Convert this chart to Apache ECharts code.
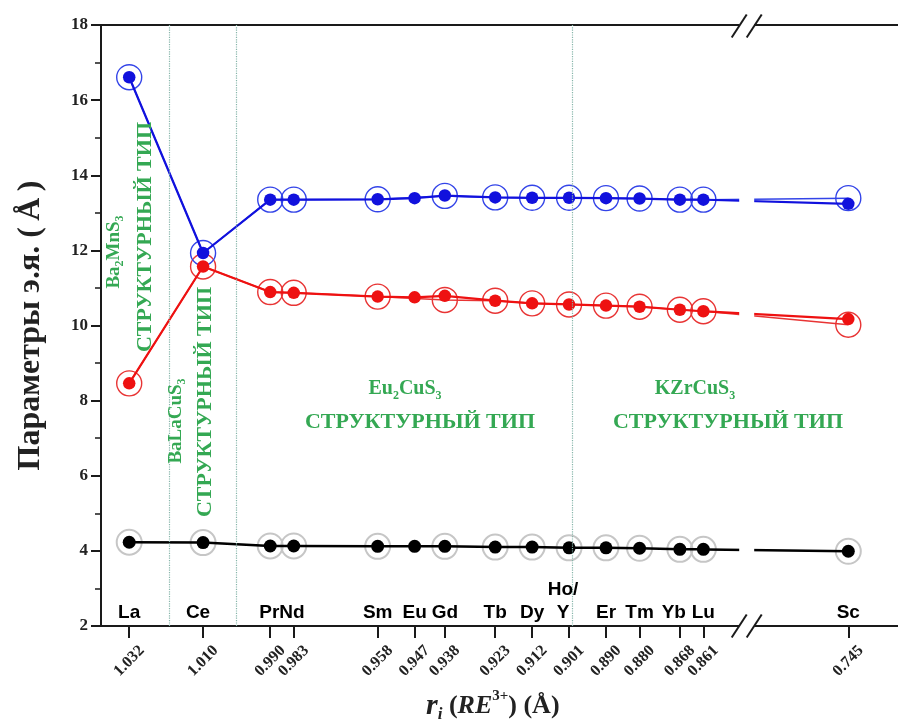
<!DOCTYPE html>
<html>
<head>
<meta charset="utf-8">
<script src="https://cdn.jsdelivr.net/npm/echarts@6/dist/echarts.min.js"></script>
<style>
  html, body { margin: 0; padding: 0; background: #fff; }
  #chart { width: 898px; height: 722px; }
</style>
</head>
<body>
<div id="chart"></div>
<script>
// Rare-earth ions and their radii r(RE3+), Å
const elements = ['La', 'Ce', 'Pr', 'Nd', 'Sm', 'Eu', 'Gd', 'Tb', 'Dy', 'Y', 'Er', 'Tm', 'Yb', 'Lu', 'Sc'];
const radii = [1.032, 1.010, 0.990, 0.983, 0.958, 0.947, 0.938, 0.923, 0.912, 0.901, 0.890, 0.880, 0.868, 0.861, 0.745];

// Unit-cell parameters, Å (filled markers and open rings)
const blueDots  = [16.61, 11.93, 13.35, 13.35, 13.36, 13.39, 13.46, 13.41, 13.40, 13.40, 13.39, 13.38, 13.35, 13.35, 13.24];
const blueRings = [16.61, 11.93, 13.35, 13.35, 13.36, null,  13.45, 13.41, 13.40, 13.40, 13.39, 13.38, 13.35, 13.35, 13.39];
const redDots   = [8.46, 11.57, 10.89, 10.87, 10.77, 10.75, 10.79, 10.66, 10.59, 10.56, 10.53, 10.50, 10.42, 10.38, 10.17];
const redRings  = [8.46, 11.57, 10.89, 10.87, 10.77, null,  10.68, 10.66, 10.59, 10.56, 10.53, 10.50, 10.42, 10.38, 10.02];
const blackDots = [4.23, 4.22, 4.13, 4.13, 4.12, 4.12, 4.12, 4.10, 4.10, 4.08, 4.08, 4.07, 4.04, 4.04, 3.99];
const blackRings= [4.23, 4.22, 4.13, 4.13, 4.12, null,  4.12, 4.10, 4.10, 4.08, 4.08, 4.07, 4.04, 4.04, 3.99];

// Element names written above the radius axis
const nameLabels = ['La', 'Ce', 'PrNd', 'Sm', 'Eu', 'Gd', 'Tb', 'Dy', 'Ho/\nY', 'Er', 'Tm', 'Yb', 'Lu', 'Sc'];
const nameAt     = [1.032, 1.0115, 0.9865, 0.958, 0.947, 0.938, 0.923, 0.912, 0.9028, 0.890, 0.880, 0.8698, 0.861, 0.745];

// Structure-type boundaries
const phaseBounds = [1.0215, 0.9985, 0.8965];

// Parameter axis
const yMin = 2, yMax = 18, yStep = 2;

// Layout: main panel plus the Sc panel beyond the axis break
const GRID_TOP = 25, GRID_BOTTOM = 96;
const MAIN_LEFT = 101, MAIN_WIDTH = 644;
const TAIL_LEFT = 708;
const MAIN_RANGE = [0.8486, 1.0404];
const TAIL_RANGE = [0.70524, 0.85724];
const BREAK_A = 739.2, BREAK_B = 754.2;

const SERIF = 'Liberation Serif';
const SANS = 'Liberation Sans';
const AXIS_COLOR = '#1a1a1a';
const GREEN = '#34a853';

function points(vals, from, to) {
  const out = [];
  for (let i = from; i < to; i++) {
    if (vals[i] !== null) out.push([radii[i], vals[i]]);
  }
  return out;
}

function dotSeries(vals, color, size, width, grid, from, to) {
  return {
    type: 'line', xAxisIndex: grid === 0 ? 0 : 2, yAxisIndex: grid,
    data: points(vals, from, to), clip: true, z: 4,
    symbol: 'circle', symbolSize: size,
    itemStyle: { color: color },
    lineStyle: { color: color, width: width },
    animation: false, silent: true
  };
}

function ringSeries(vals, color, size, border, lineW, grid, from, to) {
  return {
    type: 'line', xAxisIndex: grid === 0 ? 0 : 2, yAxisIndex: grid,
    data: points(vals, from, to), clip: true, z: 3,
    symbol: 'circle', symbolSize: size,
    itemStyle: { color: 'rgba(255,255,255,0)', borderColor: color, borderWidth: border },
    lineStyle: { color: color, width: lineW },
    animation: false, silent: true
  };
}

function nameSeries(grid, idx) {
  return {
    type: 'scatter', xAxisIndex: grid === 0 ? 0 : 2, yAxisIndex: grid,
    symbolSize: 0, clip: false, silent: true, animation: false, z: 5,
    itemStyle: { opacity: 1 },
    data: idx.map(i => ({ name: nameLabels[i], value: [nameAt[i], yMin] })),
    label: {
      show: true, position: 'top', distance: 2, formatter: '{b}', opacity: 1,
      fontFamily: SANS, fontWeight: 'bold', fontSize: 19, lineHeight: 23, color: '#000'
    }
  };
}

const N = radii.length;          // 15 points, Sc is the last
const mainEnd = N - 1;           // La … Lu in the main panel
const tailFrom = N - 2;          // Lu … Sc in the tail panel

const series = [
  // main panel
  ringSeries(blackRings, '#c6c6c6', 25, 2, 1.5, 0, 0, mainEnd),
  ringSeries(redRings, '#e83434', 25, 1.4, 1.5, 0, 0, mainEnd),
  ringSeries(blueRings, '#3344e8', 25, 1.4, 1.5, 0, 0, mainEnd),
  dotSeries(blackDots, '#000000', 13, 2.5, 0, 0, mainEnd),
  dotSeries(redDots, '#ee1111', 12.5, 2.2, 0, 0, mainEnd),
  dotSeries(blueDots, '#1111dd', 12.5, 2.2, 0, 0, mainEnd),
  // tail panel (Lu → Sc)
  ringSeries(blackRings, '#c6c6c6', 25, 2, 1.5, 1, tailFrom, N),
  ringSeries(redRings, '#e83434', 25, 1.4, 1.5, 1, tailFrom, N),
  ringSeries(blueRings, '#3344e8', 25, 1.4, 1.5, 1, tailFrom, N),
  dotSeries(blackDots, '#000000', 13, 2.5, 1, tailFrom, N),
  dotSeries(redDots, '#ee1111', 12.5, 2.2, 1, tailFrom, N),
  dotSeries(blueDots, '#1111dd', 12.5, 2.2, 1, tailFrom, N),
  // element names
  nameSeries(0, nameLabels.map((_, i) => i).slice(0, nameLabels.length - 1)),
  nameSeries(1, [nameLabels.length - 1])
];

// dotted structure-type boundaries
series[0].markLine = {
  silent: true, symbol: ['none', 'none'], animation: false,
  label: { show: false },
  lineStyle: { type: 'dotted', color: '#86b5aa', width: 1.2 },
  data: phaseBounds.map(v => ({ xAxis: v }))
};

const tickLabelStyle = {
  rotate: 45, align: 'center', verticalAlign: 'middle', margin: 35,
  fontFamily: SERIF, fontWeight: 'bold', fontSize: 16, color: '#222',
  formatter: v => Number(v).toFixed(3)
};

function bottomAxis(grid, range, ticks) {
  return {
    type: 'value', gridIndex: grid, position: 'bottom', inverse: true,
    min: range[0], max: range[1],
    axisLine: { show: true, onZero: false, lineStyle: { color: AXIS_COLOR, width: 2 } },
    axisTick: { show: true, customValues: ticks, length: 12, lineStyle: { color: AXIS_COLOR, width: 2 } },
    axisLabel: Object.assign({ customValues: ticks }, tickLabelStyle),
    splitLine: { show: false }
  };
}

function topAxis(grid, range) {
  return {
    type: 'value', gridIndex: grid, position: 'top', inverse: true,
    min: range[0], max: range[1],
    axisLine: { show: true, onZero: false, lineStyle: { color: AXIS_COLOR, width: 2 } },
    axisTick: { show: false }, axisLabel: { show: false }, splitLine: { show: false }
  };
}

function slash(cx, cy) {
  return {
    type: 'line', z: 101, silent: true,
    shape: { x1: cx - 7.5, y1: cy + 11.5, x2: cx + 7.5, y2: cy - 11.5 },
    style: { stroke: AXIS_COLOR, lineWidth: 2 }
  };
}

const subStyle = (size) => ({ fontFamily: SERIF, fontWeight: 'bold', fontSize: size, lineHeight: 12, verticalAlign: 'bottom', color: GREEN });
const mainStyle = (size) => ({ fontFamily: SERIF, fontWeight: 'bold', fontSize: size, lineHeight: size + 5, color: GREEN });

function greenText(text, x, y, size, vertical) {
  return {
    type: 'text', x: x, y: y, rotation: vertical ? Math.PI / 2 : 0, z: 120, silent: true,
    style: {
      text: text, align: 'center', verticalAlign: 'middle', fill: GREEN,
      rich: { m: mainStyle(size), s: subStyle(Math.round(size * 0.62)) }
    }
  };
}

const gridBottomY = 722 - GRID_BOTTOM;

const option = {
  backgroundColor: '#ffffff',
  animation: false,
  title: {
    text: '{r|r}{i|i}{n| (}{it|RE}{sup|3+}{n|) (Å)}',
    left: 426, top: 689, padding: 0,
    textStyle: {
      rich: {
        r:   { fontFamily: SERIF, fontStyle: 'italic', fontWeight: 'bold', fontSize: 30, lineHeight: 34, color: '#222' },
        i:   { fontFamily: SERIF, fontStyle: 'italic', fontWeight: 'bold', fontSize: 17, lineHeight: 14, verticalAlign: 'bottom', color: '#222' },
        n:   { fontFamily: SERIF, fontWeight: 'bold', fontSize: 26, lineHeight: 34, color: '#222' },
        it:  { fontFamily: SERIF, fontStyle: 'italic', fontWeight: 'bold', fontSize: 26, lineHeight: 34, color: '#222' },
        sup: { fontFamily: SERIF, fontWeight: 'bold', fontSize: 15, lineHeight: 14, verticalAlign: 'top', color: '#222' }
      }
    }
  },
  grid: [
    { left: MAIN_LEFT, top: GRID_TOP, width: MAIN_WIDTH, bottom: GRID_BOTTOM, containLabel: false },
    { left: TAIL_LEFT, top: GRID_TOP, right: 0, bottom: GRID_BOTTOM, containLabel: false }
  ],
  xAxis: [
    bottomAxis(0, MAIN_RANGE, radii.slice(0, mainEnd)),
    topAxis(0, MAIN_RANGE),
    bottomAxis(1, TAIL_RANGE, radii.slice(mainEnd)),
    topAxis(1, TAIL_RANGE)
  ],
  yAxis: [
    {
      type: 'value', gridIndex: 0, min: yMin, max: yMax, interval: yStep,
      name: 'Параметры э.я. (\u2009Å\u2009)', nameLocation: 'middle', nameGap: 54,
      nameTextStyle: { fontFamily: SERIF, fontWeight: 'bold', fontSize: 32, color: '#222' },
      axisLine: { show: true, onZero: false, lineStyle: { color: AXIS_COLOR, width: 2 } },
      axisTick: { show: true, length: 10, lineStyle: { color: AXIS_COLOR, width: 2 } },
      minorTick: { show: true, splitNumber: 2, length: 6, lineStyle: { color: AXIS_COLOR, width: 1.5 } },
      axisLabel: { fontFamily: SERIF, fontWeight: 'bold', fontSize: 17, color: '#222', margin: 13 },
      splitLine: { show: false }
    },
    { type: 'value', gridIndex: 1, min: yMin, max: yMax, interval: yStep, show: false, splitLine: { show: false } }
  ],
  series: series,
  graphic: [
    // gap of the axis break
    {
      type: 'rect', z: 100, silent: true,
      shape: { x: BREAK_A, y: GRID_TOP - 12, width: BREAK_B - BREAK_A, height: gridBottomY - GRID_TOP + 24 },
      style: { fill: '#ffffff' }
    },
    slash(BREAK_A, GRID_TOP + 1), slash(BREAK_B, GRID_TOP + 1),
    slash(BREAK_A, gridBottomY), slash(BREAK_B, gridBottomY),
    // structure types
    greenText('{m|Ba}{s|2}{m|MnS}{s|3}', 114, 252, 19, true),
    greenText('{m|СТРУКТУРНЫЙ ТИП}', 145, 237, 22, true),
    greenText('{m|BaLaCuS}{s|3}', 176, 421, 19, true),
    greenText('{m|СТРУКТУРНЫЙ ТИП}', 205, 402, 22, true),
    greenText('{m|Eu}{s|2}{m|CuS}{s|3}', 405, 389, 20, false),
    greenText('{m|СТРУКТУРНЫЙ ТИП}', 420, 422, 22, false),
    greenText('{m|KZrCuS}{s|3}', 695, 389, 20, false),
    greenText('{m|СТРУКТУРНЫЙ ТИП}', 728, 422, 22, false)
  ]
};

const chart = echarts.init(document.getElementById('chart'), null, { renderer: 'canvas' });
chart.setOption(option);
</script>
</body>
</html>
